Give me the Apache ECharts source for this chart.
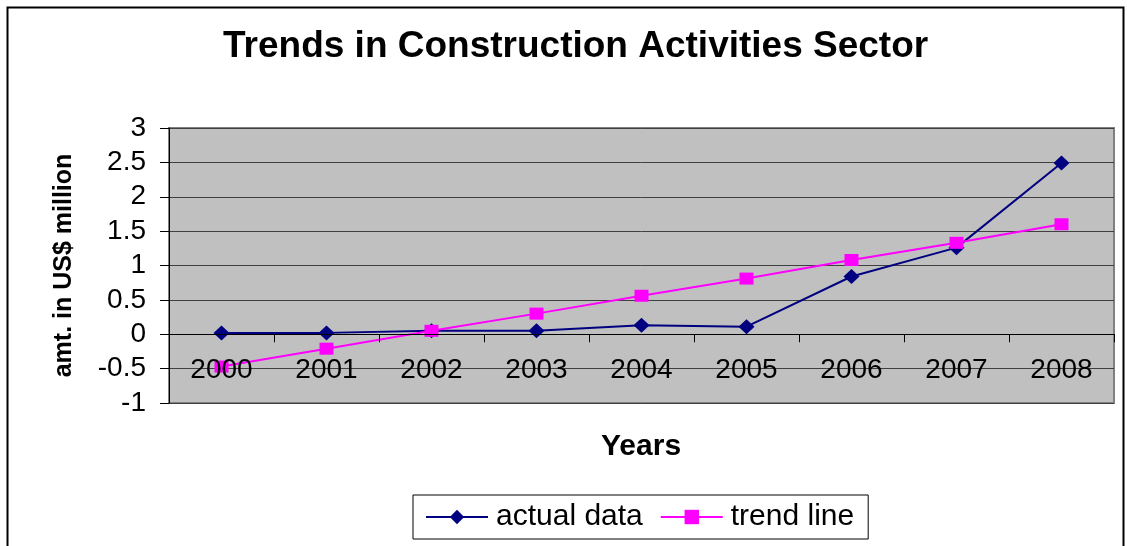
<!DOCTYPE html>
<html>
<head>
<meta charset="utf-8">
<script src="https://cdn.jsdelivr.net/npm/echarts@6/dist/echarts.min.js"></script>
<style>
html,body{margin:0;padding:0;background:#fff;}
#chart{width:1127px;height:546px;}
</style>
</head>
<body>
<div id="chart"></div>
<script>
const years = ['2000','2001','2002','2003','2004','2005','2006','2007','2008'];
const actualData = [0.02, 0.02, 0.05, 0.05, 0.13, 0.11, 0.84, 1.26, 2.49];
const trendLine = [-0.47, -0.21, 0.05, 0.30, 0.56, 0.81, 1.08, 1.33, 1.60];
const yTicks = { min: -1, max: 3, interval: 0.5 };

const FONT = '"Liberation Sans", Arial, sans-serif';
const GRID_H = 275;
// distance from grid bottom up to the value 0
const zeroOffset = GRID_H * (0 - yTicks.min) / (yTicks.max - yTicks.min);

const chart = echarts.init(document.getElementById('chart'));
chart.setOption({
  animation: false,
  backgroundColor: '#fff',
  textStyle: { fontFamily: FONT },
  title: {
    text: 'Trends in Construction Activities Sector',
    left: 218,
    top: 23,
    textStyle: { fontSize: 37, fontWeight: 'bold', color: '#000', fontFamily: FONT }
  },
  graphic: [
    { type: 'rect', left: 5, top: 5, shape: { width: 1116, height: 560 },
      style: { fill: 'none', stroke: '#000', lineWidth: 2 }, silent: true, z: -1 },
    { type: 'text', left: 601, top: 432,
      style: { text: 'Years', font: 'bold 30px ' + FONT, fill: '#000' } }
  ],
  legend: {
    left: 413, top: 495,
    padding: [7, 14, 7, 12],
    itemGap: 17,
    itemWidth: 62, itemHeight: 18,
    borderColor: '#000', borderWidth: 1,
    textStyle: { fontSize: 30, color: '#000', fontFamily: FONT, padding: [0, 0, 0, 3] },
    data: ['actual data', 'trend line']
  },
  grid: {
    left: 169, top: 128, width: 945, height: GRID_H,
    show: true, backgroundColor: '#c0c0c0', borderColor: '#808080', borderWidth: 2,
    containLabel: false
  },
  xAxis: {
    type: 'category',
    data: years,
    boundaryGap: true,
    offset: -zeroOffset,
    z: 10,
    axisLine: { onZero: false, lineStyle: { color: '#000', width: 1 } },
    axisTick: { show: true, inside: false, length: 8, lineStyle: { color: '#000' } },
    axisLabel: { fontSize: 28, color: '#000', margin: 22, fontFamily: FONT },
    splitLine: { show: false }
  },
  yAxis: {
    type: 'value',
    min: yTicks.min, max: yTicks.max, interval: yTicks.interval,
    name: 'amt. in US$ million',
    nameLocation: 'middle',
    nameGap: 92,
    nameRotate: 90,
    nameTextStyle: { fontSize: 25, fontWeight: 'bold', color: '#000', fontFamily: FONT },
    axisLine: { show: true, lineStyle: { color: '#000', width: 1 } },
    axisTick: { show: true, inside: false, length: 9, lineStyle: { color: '#000' } },
    axisLabel: { fontSize: 28, color: '#000', margin: 23, fontFamily: FONT },
    splitLine: { show: true, lineStyle: { color: '#404040', width: 1 } }
  },
  series: [
    {
      name: 'actual data', type: 'line', data: actualData,
      symbol: 'diamond', symbolSize: [16, 15],
      lineStyle: { color: '#000080', width: 2 },
      itemStyle: { color: '#000080' },
      z: 3
    },
    {
      name: 'trend line', type: 'line', data: trendLine,
      symbol: 'rect', symbolSize: [14, 12],
      lineStyle: { color: '#ff00ff', width: 2 },
      itemStyle: { color: '#ff00ff' },
      z: 4
    }
  ]
});
</script>
</body>
</html>
